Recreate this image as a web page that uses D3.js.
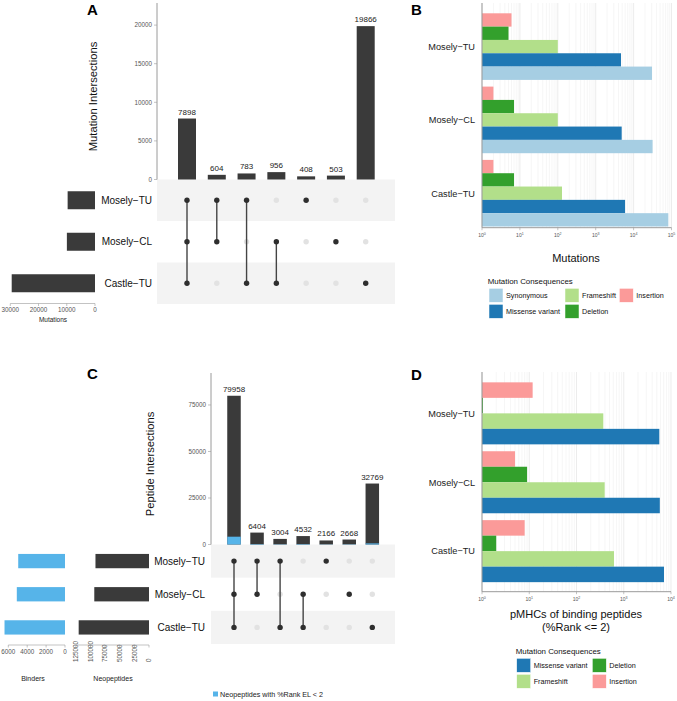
<!DOCTYPE html>
<html><head><meta charset="utf-8">
<script src="https://cdn.jsdelivr.net/npm/d3@7/dist/d3.min.js"></script>
<style>
body{margin:0;background:#fff;}
svg{display:block;font-family:"Liberation Sans",Arial,Helvetica,sans-serif;}
</style></head>
<body><svg id="c" width="677" height="701"></svg>
<script>
// ---------------- DATA ----------------
const setNames = ["Mosely−TU", "Mosely−CL", "Castle−TU"];
// membership per intersection column: [Mosely-TU, Mosely-CL, Castle-TU]
const membership = [[1,1,1],[1,1,0],[1,0,1],[0,1,1],[1,0,0],[0,1,0],[0,0,1]];

// Panel A
const mutIntersections = [7898, 604, 783, 956, 408, 503, 19866];
const mutSetSizes = [9693, 9961, 29503];
const mutYTicks = [0, 5000, 10000, 15000, 20000];
const mutSetTicks = [0, 10000, 20000, 30000];

// Panel C
const pepIntersections = [79958, 6404, 3004, 4532, 2166, 2668, 32769];
const pepBinderIntersections = [4200, 250, 150, 250, 100, 150, 600];
const pepSetSizes = [91532, 93562, 120263];
const binderSetSizes = [4950, 5100, 6400];
const pepYTicks = [0, 25000, 50000, 75000];
const pepSetTicks = [0, 25000, 50000, 75000, 100000, 125000];
const binderTicks = [0, 2000, 4000, 6000];

// Panel B (mutations per consequence, per sample in setNames order)
const bConsequences = ["Insertion", "Deletion", "Frameshift", "Missense variant", "Synonymous"];
const bInsertion  = [6, 2, 2];
const bDeletion   = [5, 7, 7];
const bFrameshift = [100, 100, 129];
const bMissense   = [4650, 4850, 5950];
const bSynonymous = [30600, 31700, 82400];

// Panel D (pMHCs of binding peptides)
const dConsequences = ["Insertion", "Deletion", "Frameshift", "Missense variant"];
const dInsertion  = [11.8, 5, 8];
const dDeletion   = [1.05, 9, 2];
const dFrameshift = [369, 395, 622];
const dMissense   = [5660, 5800, 7110];

const consColors = {
  "Synonymous": "#a6cee3", "Missense variant": "#1f78b4",
  "Frameshift": "#b2df8a", "Deletion": "#33a02c", "Insertion": "#fb9a99"
};
const legendB = [["Synonymous", "Missense variant"], ["Frameshift", "Deletion"], ["Insertion"]];
const legendD = [["Missense variant", "Frameshift"], ["Deletion", "Insertion"]];

// ---------------- DRAW ----------------
const svg = d3.select("#c");
const DARK = "#3a3a3a", BLUE = "#56b4e9", AXIS = "#9a9a9a", TICKTXT = "#555";

function panelLetter(t, x, y){
  svg.append("text").attr("x", x).attr("y", y).attr("font-size", 15).attr("font-weight", "bold").text(t);
}

function upset(opt){
  const g = svg.append("g");
  const x = d3.scalePoint().domain(d3.range(opt.inter.length)).range(opt.colRange);
  const y = d3.scaleLinear().domain(opt.yDomain).range(opt.yRange);
  const rows = d3.scaleBand().domain(setNames).range(opt.rowRange);
  // stripes
  setNames.forEach((s, i) => {
    if (i % 2 === 0) g.append("rect").attr("x", opt.matX[0]).attr("width", opt.matX[1]-opt.matX[0])
      .attr("y", rows(s)).attr("height", rows.bandwidth()).attr("fill", "#f3f3f3");
  });
  // y axis
  g.append("line").attr("x1", opt.matX[0]).attr("x2", opt.matX[0]).attr("y1", opt.axisTop).attr("y2", y(0)).attr("stroke", AXIS).attr("stroke-width", 1);
  opt.yTicks.forEach(t => {
    g.append("line").attr("x1", opt.matX[0]-3).attr("x2", opt.matX[0]).attr("y1", y(t)).attr("y2", y(t)).attr("stroke", AXIS).attr("stroke-width", 0.6);
    g.append("text").attr("x", opt.matX[0]-5).attr("y", y(t)+2.2).attr("text-anchor", "end").attr("font-size", 6.3).attr("fill", TICKTXT).text(t);
  });
  g.append("text").attr("transform", `translate(${opt.titleX},${opt.titleY}) rotate(-90)`).attr("text-anchor", "middle").attr("font-size", 11.2).attr("fill", "#111").text(opt.title);
  // bars
  opt.inter.forEach((v, i) => {
    g.append("rect").attr("x", x(i)-opt.barW/2).attr("width", opt.barW).attr("y", y(v)).attr("height", y(0)-y(v)).attr("fill", DARK);
    if (opt.sub) g.append("rect").attr("x", x(i)-opt.barW/2).attr("width", opt.barW).attr("y", y(opt.sub[i])).attr("height", y(0)-y(opt.sub[i])).attr("fill", BLUE);
    g.append("text").attr("x", x(i)).attr("y", y(v)-4).attr("text-anchor", "middle").attr("font-size", 8).attr("fill", "#222").text(v);
  });
  // matrix: inactive dots, then lines, then active dots
  membership.forEach((m, i) => {
    setNames.forEach((s, k) => {
      if (!m[k]) g.append("circle").attr("cx", x(i)).attr("cy", rows(s)+rows.bandwidth()/2).attr("r", 2.7).attr("fill", "#e2e2e2");
    });
  });
  membership.forEach((m, i) => {
    const act = setNames.filter((s, k) => m[k]);
    if (act.length > 1) {
      g.append("line").attr("x1", x(i)).attr("x2", x(i))
        .attr("y1", rows(act[0]) + rows.bandwidth()/2).attr("y2", rows(act[act.length-1]) + rows.bandwidth()/2)
        .attr("stroke", "#444").attr("stroke-width", 1.4);
    }
    setNames.forEach((s, k) => {
      if (m[k]) g.append("circle").attr("cx", x(i)).attr("cy", rows(s)+rows.bandwidth()/2).attr("r", 2.7).attr("fill", "#2e2e2e");
    });
  });
  // set labels
  setNames.forEach(s => {
    g.append("text").attr("x", opt.labelX).attr("y", rows(s)+rows.bandwidth()/2+3.6).attr("text-anchor", "end").attr("font-size", 10).attr("fill", "#111").text(s);
  });
  return {rows};
}

// ---- Panel A ----
panelLetter("A", 87, 15);
const A = upset({
  inter: mutIntersections, colRange: [187, 365.7], yDomain: [0, 20000], yRange: [179.5, 25.1],
  rowRange: [179.5, 304], matX: [157, 395], axisTop: 3, yTicks: mutYTicks,
  title: "Mutation Intersections", titleX: 97, titleY: 96.5, barW: 18, labelX: 152
});
{
  const xs = d3.scaleLinear().domain([0, 29503]).range([95, 11.7]);
  const r = A.rows, bh = 18;
  setNames.forEach((s, i) => {
    svg.append("rect").attr("x", xs(mutSetSizes[i])).attr("width", xs(0)-xs(mutSetSizes[i]))
      .attr("y", r(s)+r.bandwidth()/2-bh/2).attr("height", bh).attr("fill", DARK);
  });
  svg.append("line").attr("x1", xs(30000)).attr("x2", 95).attr("y1", 303.5).attr("y2", 303.5).attr("stroke", AXIS).attr("stroke-width", 0.6);
  mutSetTicks.forEach(t => {
    svg.append("line").attr("x1", xs(t)).attr("x2", xs(t)).attr("y1", 303.5).attr("y2", 306).attr("stroke", AXIS).attr("stroke-width", 0.6);
    svg.append("text").attr("x", xs(t)).attr("y", 312).attr("text-anchor", "middle").attr("font-size", 6.3).attr("fill", TICKTXT).text(t);
  });
  svg.append("text").attr("x", 53).attr("y", 322).attr("text-anchor", "middle").attr("font-size", 6.5).attr("fill", "#222").text("Mutations");
}

// ---- Panel C ----
panelLetter("C", 87, 379);
const C = upset({
  inter: pepIntersections, sub: pepBinderIntersections, colRange: [234, 372.3], yDomain: [0, 75000], yRange: [544.5, 404.98],
  rowRange: [544.5, 644], matX: [211, 395], axisTop: 373, yTicks: pepYTicks,
  title: "Peptide Intersections", titleX: 153.5, titleY: 464, barW: 13.5, labelX: 205
});
{
  const r = C.rows, bh = 14.3;
  const xn = d3.scaleLinear().domain([0, 125000]).range([149, 75.9]);
  const xb = d3.scaleLinear().domain([0, 6000]).range([65, 8.3]);
  setNames.forEach((s, i) => {
    svg.append("rect").attr("x", xn(pepSetSizes[i])).attr("width", xn(0)-xn(pepSetSizes[i]))
      .attr("y", r(s)+r.bandwidth()/2-bh/2).attr("height", bh).attr("fill", DARK);
    svg.append("rect").attr("x", xb(binderSetSizes[i])).attr("width", xb(0)-xb(binderSetSizes[i]))
      .attr("y", r(s)+r.bandwidth()/2-bh/2).attr("height", bh).attr("fill", BLUE);
  });
  svg.append("line").attr("x1", xn(125000)).attr("x2", xn(0)).attr("y1", 645).attr("y2", 645).attr("stroke", AXIS).attr("stroke-width", 0.6);
  pepSetTicks.forEach(t => {
    svg.append("line").attr("x1", xn(t)).attr("x2", xn(t)).attr("y1", 645).attr("y2", 647.5).attr("stroke", AXIS).attr("stroke-width", 0.6);
    svg.append("text").attr("transform", `translate(${xn(t)+2.2},662) rotate(-90)`).attr("text-anchor", "start").attr("font-size", 6.3).attr("fill", TICKTXT).text(t);
  });
  svg.append("line").attr("x1", xb(6000)).attr("x2", xb(0)).attr("y1", 645).attr("y2", 645).attr("stroke", AXIS).attr("stroke-width", 0.6);
  binderTicks.forEach(t => {
    svg.append("line").attr("x1", xb(t)).attr("x2", xb(t)).attr("y1", 645).attr("y2", 647.5).attr("stroke", AXIS).attr("stroke-width", 0.6);
    svg.append("text").attr("x", xb(t)).attr("y", 654).attr("text-anchor", "middle").attr("font-size", 6.3).attr("fill", TICKTXT).text(t);
  });
  svg.append("text").attr("x", 33).attr("y", 681).attr("text-anchor", "middle").attr("font-size", 7).attr("fill", "#222").text("Binders");
  svg.append("text").attr("x", 113).attr("y", 681).attr("text-anchor", "middle").attr("font-size", 7).attr("fill", "#222").text("Neopeptides");
  svg.append("rect").attr("x", 213).attr("y", 691.5).attr("width", 5).attr("height", 5).attr("fill", BLUE);
  svg.append("text").attr("x", 220).attr("y", 697).attr("font-size", 7.2).attr("fill", "#222").text("Neopeptides with %Rank EL < 2");
}

// ---- log bar panels ----
function logPanel(opt){
  const g = svg.append("g");
  const x = d3.scaleLog().domain([1, opt.maxPow]).range([482, opt.xRight]);
  const y = d3.scaleBand().domain(setNames).range(opt.bandRange).paddingInner(opt.pad).paddingOuter(opt.pad/2);
  const yi = d3.scaleBand().domain(opt.cons).range([0, y.bandwidth()]);
  // grid
  const maxExp = Math.round(Math.log10(opt.maxPow));
  for (let e = 0; e <= maxExp; e++) {
    for (let k = 1; k <= 9; k++) {
      const v = k * Math.pow(10, e);
      if (v > opt.maxPow) break;
      g.append("line").attr("x1", x(v)).attr("x2", x(v)).attr("y1", opt.top).attr("y2", opt.bottom)
        .attr("stroke", k === 1 ? "#e4e4e4" : "#ececec").attr("stroke-width", k === 1 ? 0.7 : 0.5);
    }
  }
  // bars
  opt.cons.forEach((c, ci) => {
    opt.values[ci].forEach((v, si) => {
      g.append("rect").attr("x", x(1)).attr("width", x(v)-x(1))
        .attr("y", y(setNames[si]) + yi(c)).attr("height", yi.bandwidth()).attr("fill", consColors[c]);
    });
  });
  // axes
  g.append("line").attr("x1", 482).attr("x2", 482).attr("y1", opt.top).attr("y2", opt.bottom).attr("stroke", AXIS);
  g.append("line").attr("x1", 482).attr("x2", opt.xRight).attr("y1", opt.bottom).attr("y2", opt.bottom).attr("stroke", AXIS);
  for (let e = 0; e <= maxExp; e++) {
    const v = Math.pow(10, e);
    g.append("line").attr("x1", x(v)).attr("x2", x(v)).attr("y1", opt.bottom).attr("y2", opt.bottom+2.5).attr("stroke", AXIS).attr("stroke-width", 0.6);
    const t = g.append("text").attr("x", x(v)).attr("y", opt.bottom+9.5).attr("text-anchor", "middle").attr("font-size", 5).attr("fill", TICKTXT);
    t.append("tspan").text("10");
    t.append("tspan").attr("dy", -2).attr("font-size", 3.6).text(e);
  }
  setNames.forEach(s => {
    g.append("text").attr("x", 475).attr("y", y(s)+y.bandwidth()/2+3.3).attr("text-anchor", "end").attr("font-size", 9.2).attr("fill", "#222").text(s);
  });
  opt.xTitle.forEach((t, i) => {
    g.append("text").attr("x", 576).attr("y", opt.xTitleY + i*12.5).attr("text-anchor", "middle").attr("font-size", 11).attr("fill", "#111").text(t);
  });
  // legend
  g.append("text").attr("x", opt.leg.x).attr("y", opt.leg.y).attr("font-size", 7.9).attr("fill", "#111").text("Mutation Consequences");
  opt.leg.cols.forEach((col, ci) => {
    col.forEach((c, ri) => {
      const kx = opt.leg.colX[ci], ky = opt.leg.y + 4.8 + ri*16;
      g.append("rect").attr("x", kx).attr("y", ky).attr("width", 14).attr("height", 14).attr("fill", consColors[c]).attr("stroke", "#fff").attr("stroke-width", 0.5);
      g.append("text").attr("x", kx+17).attr("y", ky+9.6).attr("font-size", 7.2).attr("fill", "#111").text(c);
    });
  });
}

panelLetter("B", 411, 15);
logPanel({
  maxPow: 1e5, xRight: 671.5, bandRange: [9.95, 229.85], pad: 0.0914, top: 3, bottom: 227.7,
  cons: bConsequences, values: [bInsertion, bDeletion, bFrameshift, bMissense, bSynonymous],
  xTitle: ["Mutations"], xTitleY: 261.5,
  leg: {x: 487.7, y: 283.5, colX: [489, 565, 619.3], cols: legendB}
});

panelLetter("D", 411, 380);
logPanel({
  maxPow: 1e4, xRight: 671, bandRange: [378.9, 585.6], pad: 0.1, top: 372, bottom: 591.7,
  cons: dConsequences, values: [dInsertion, dDeletion, dFrameshift, dMissense],
  xTitle: ["pMHCs of binding peptides", "(%Rank <= 2)"], xTitleY: 618,
  leg: {x: 515.7, y: 653.5, colX: [516.7, 592.3], cols: legendD}
});
</script>
</body></html>
